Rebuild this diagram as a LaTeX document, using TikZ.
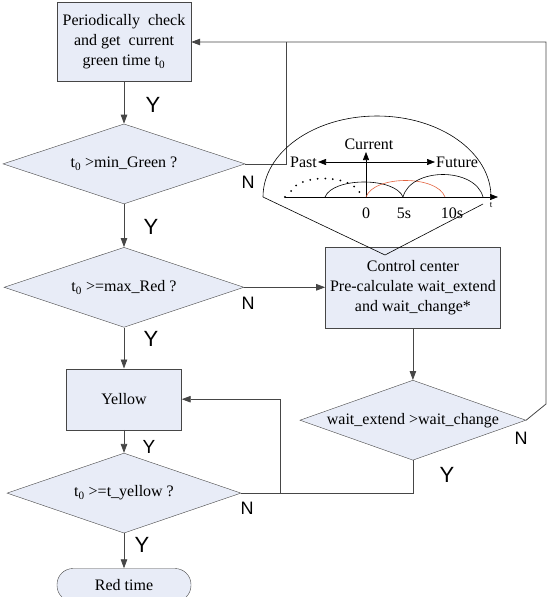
\documentclass[tikz,border=0pt]{standalone}
\usepackage{fontspec}
\setmainfont{Liberation Serif}
\newfontfamily\labelfont{Liberation Sans}
\usetikzlibrary{shapes.geometric, arrows.meta, positioning}
\definecolor{boxfill}{RGB}{232,236,247}
\definecolor{linegray}{RGB}{70,70,70}
\definecolor{arcred}{RGB}{226,100,64}

\begin{document}
\begin{tikzpicture}[
        x=1pt, y=-1pt,
        font=\fontsize{16}{20}\selectfont,
        process/.style={rectangle, draw=linegray, fill=boxfill, align=center, inner sep=2pt},
        decision/.style={diamond, draw=linegray, fill=boxfill, align=center, inner sep=1pt, aspect=3},
        terminal/.style={rectangle, rounded corners=16pt, draw=linegray, fill=boxfill, minimum width=134pt, minimum height=33pt},
        arrow/.style={->, >={Triangle[length=9pt,width=6.5pt]}, draw=linegray, line width=0.8pt},
        link/.style={draw=linegray, line width=0.8pt},
        sketch/.style={draw=black, line width=0.6pt},
        yes/.style={font=\labelfont\fontsize{22}{22}\selectfont, inner sep=0pt},
        no/.style={font=\labelfont\fontsize{18}{18}\selectfont, inner sep=0pt},
        tick/.style={font=\fontsize{16}{18}\selectfont, inner sep=1pt}
    ]
    \useasboundingbox (0,0) rectangle (549,597);

    % main column
    \node (check) [process, minimum width=134pt, minimum height=79pt] at (124,42) {Periodically\ \ check\\and get\ \ current\\green time t\textsubscript{0}};
    \node (minG) [decision, minimum width=242pt, minimum height=80pt, below=42pt of check] {t\textsubscript{0} >min\_Green ?};
    \node (maxR) [decision, minimum width=240pt, minimum height=80pt, below=43pt of minG] {t\textsubscript{0} >=max\_Red ?};
    \node (yellow) [process, minimum width=115pt, minimum height=61pt, below=41pt of maxR] {Yellow};
    \node (tY) [decision, minimum width=234pt, minimum height=80pt, below=23pt of yellow] {t\textsubscript{0} >=t\_yellow ?};
    \node (red) [terminal, below=35pt of tY] {Red time};

    % right column
    \node (ctrl) [process, minimum width=175pt, minimum height=81pt, right=81pt of maxR] {Control center\\Pre-calculate wait\_extend\\and wait\_change*};
    \node (wait) [decision, minimum width=226pt, minimum height=80pt, below=52pt of ctrl] {wait\_extend >wait\_change};

    \path (minG.east) ++(41,0) coordinate (minGturn);
    \path (tY.east) ++(39,0) coordinate (yellowJoin);
    \coordinate (backBend) at (546,404);
    \coordinate (apex) at (385,255);

    \draw [arrow] (check) -- (minG);
    \draw [arrow] (minG) -- (maxR);
    \draw [arrow] (maxR) -- (yellow);
    \draw [arrow] (yellow) -- (tY);
    \draw [arrow] (tY) -- (red);
    \draw [arrow] (maxR) -- (ctrl);
    \draw [arrow] (ctrl) -- (wait);
    \draw [arrow] (wait.east) -- (backBend) -- (backBend |- check.east) -- (check.east);
    \draw [link] (minG.east) -- (minGturn) -- (minGturn |- check.east);
    \draw [arrow] (wait.south) |- (yellowJoin) |- (yellow.east);
    \draw [link] (tY.east) -- (yellowJoin);

    % Y / N labels
    \node (y1) [yes] at (153,105) {Y};
    \node (y2) [yes] at (151,227) {Y};
    \node (y3) [yes] at (151,339) {Y};
    \node (y4) [yes, font=\labelfont\fontsize{19}{19}\selectfont] at (149,447) {Y};
    \node (y5) [yes] at (142,545) {Y};
    \node (y6) [yes] at (447,475) {Y};
    \node (n1) [no] at (248,182) {N};
    \node (n2) [no] at (248,303) {N};
    \node (n3) [no] at (247,508) {N};
    \node (n4) [no] at (521,438) {N};

    % time line sketch
    \coordinate (now) at (366,197);
    \draw [sketch] (263,197) arc[start angle=180, end angle=360, x radius=114, y radius=81];
    \draw [sketch] (263,197) -- (apex) -- (483,204);
    \draw [sketch, ->, >={Triangle[length=8pt,width=6pt]}] (285,197) -- (498,197);
    \fill (285,197) circle (1.2pt);
    \draw [sketch, ->, >={Triangle[length=8pt,width=6pt]}] (now) -- (366,152);
    \draw [sketch, <->, >={Triangle[length=8pt,width=6pt]}] (318,162) -- (435,162);
    \draw [sketch, line width=2pt, dash pattern=on 0pt off 7.6pt, line cap=round] (291,191) .. controls (300,174) and (350,174) .. (360,193);
    \draw [sketch] (325,197) .. controls (333,177) and (395,177) .. (403,197);
    \draw [sketch, draw=arcred] (366,197) .. controls (374,175) and (437,175) .. (445,197);
    \draw [sketch] (403,197) .. controls (411,167) and (475,167) .. (483,197);
    \node (past) [tick, anchor=east] at (318,162) {Past};
    \node (future) [tick, anchor=west] at (435,162) {Future};
    \node (current) [tick, anchor=south] at (369,151) {Current};
    \node (zero) [tick] at (366,213) {0};
    \node (five) [tick] at (404,213) {5s};
    \node (ten) [tick] at (452,213) {10s};
    \node (tend) [tick, font=\fontsize{9}{9}\selectfont] at (491,205) {t};
\end{tikzpicture}
\end{document}
